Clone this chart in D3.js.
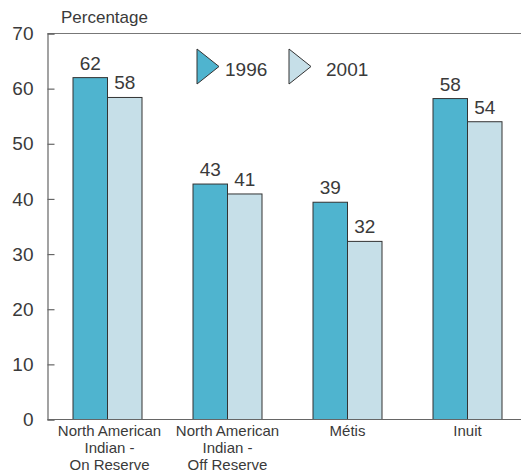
<!DOCTYPE html>
<html><head><meta charset="utf-8">
<script src="https://cdn.jsdelivr.net/npm/d3@7"></script>
<style>
html,body{margin:0;padding:0;background:#fff;}
text{font-family:"Liberation Sans",Arial,Helvetica,sans-serif;fill:#3a3a3a;}
</style></head>
<body><svg id="c" width="522" height="473"></svg>
<script>
const categories = [["North American","Indian -","On Reserve"],["North American","Indian -","Off Reserve"],["Métis"],["Inuit"]];
const seriesNames = ["1996","2001"];
const values1996 = [62, 42.7, 39.4, 58.2];
const values2001 = [58.4, 40.9, 32.3, 54];
const yTicks = [0,10,20,30,40,50,60,70];
const colors = ["#4fb4cf","#c6dfe8"];

const svg = d3.select("#c");
const x0 = 47.5, y0 = 419.5, yTop = 33.5, xRight = 521;
const y = d3.scaleLinear().domain([0,70]).range([y0,yTop]);
const x = d3.scaleBand().domain(d3.range(categories.length)).range([x0, x0+480]).paddingInner(0.425).paddingOuter(0.2125);
const xs = d3.scaleBand().domain(seriesNames).range([0, x.bandwidth()]);
const series = [values1996, values2001];

// top frame line
svg.append("line").attr("x1",x0).attr("x2",xRight).attr("y1",yTop).attr("y2",yTop).attr("stroke","#777").attr("stroke-width",1.2);

// bars
series.forEach((vals,si)=>{
  const g = svg.append("g");
  g.selectAll("rect").data(vals).join("rect")
    .attr("x",(d,i)=>x(i)+xs(seriesNames[si]))
    .attr("y",d=>y(d))
    .attr("width",xs.bandwidth())
    .attr("height",d=>y0-y(d))
    .attr("fill",colors[si]).attr("stroke","#333").attr("stroke-width",1);
  g.selectAll("text").data(vals).join("text")
    .attr("x",(d,i)=>x(i)+xs(seriesNames[si])+xs.bandwidth()/2)
    .attr("y",d=>y(d)-8)
    .attr("text-anchor","middle").attr("font-size",19)
    .text(d=>d3.format(".0f")(d));
});

// y axis
const yAxis = d3.axisLeft(y).tickValues(yTicks).tickSize(-7).tickPadding(14);
const ya = svg.append("g").attr("transform",`translate(${x0},0)`).call(yAxis);
ya.select(".domain").attr("stroke","#666").attr("stroke-width",1.2);
ya.selectAll(".tick line").attr("stroke","#666").attr("stroke-width",1.2);
ya.selectAll(".tick text").attr("font-size",19).attr("fill","#3a3a3a").attr("font-family","Liberation Sans, Arial, sans-serif");

// x axis line
svg.append("line").attr("x1",x0).attr("x2",xRight).attr("y1",y0).attr("y2",y0).attr("stroke","#666").attr("stroke-width",1.2);

// category labels
categories.forEach((lines,i)=>{
  const cx = x(i)+x.bandwidth()/2+(i===0?2:0);
  const t = svg.append("text").attr("text-anchor","middle").attr("font-size",15)
    .attr("x",cx).attr("y",436);
  lines.forEach((l,j)=>t.append("tspan").attr("x",cx).attr("dy",j===0?0:16.8).text(l));
});

// y title
svg.append("text").attr("x",61).attr("y",23).attr("font-size",17).text("Percentage");

// legend
const legX = [197, 289];
const legTextX = [225, 326];
seriesNames.forEach((s,i)=>{
  svg.append("path").attr("d",`M${legX[i]},49 L${legX[i]+22},66.5 L${legX[i]},84 Z`)
    .attr("fill",colors[i]).attr("stroke","#333").attr("stroke-width",1);
  svg.append("text").attr("x",legTextX[i]).attr("y",76).attr("font-size",19).text(s);
});
</script></body></html>
